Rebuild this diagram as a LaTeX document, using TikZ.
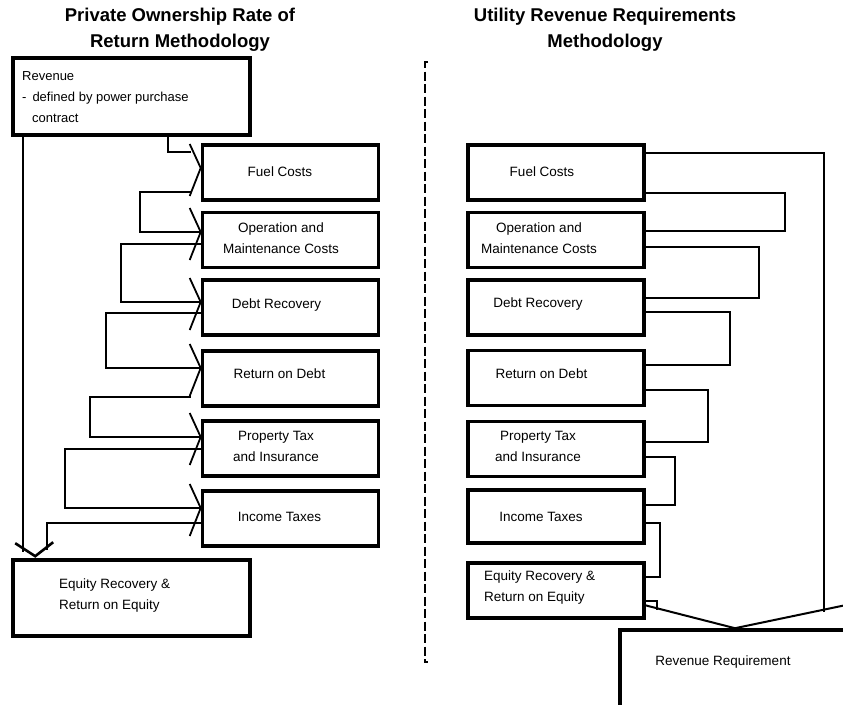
\documentclass[tikz,border=0pt]{standalone}
\usepackage{fontspec}
\setmainfont{Liberation Sans}
\usetikzlibrary{calc}
\newcommand{\barb}[2]{\draw[barb]($(#1.west)+(-11,#2-24)$)--($(#1.west)+(0,#2)$)--($(#1.west)+(-11,#2+28)$);}

\begin{document}
\begin{tikzpicture}[x=1pt,y=-1pt,
 box/.style={draw,line width=3.6pt,minimum width=176pt,minimum height=55pt,inner sep=0pt},
 txt/.style={font=\fontsize{13.5}{21}\selectfont,align=center,inner sep=0pt},
 ttl/.style={font=\fontsize{18.5}{26}\selectfont\bfseries,align=center},
 conn/.style={line width=2pt},
 barb/.style={line width=1.8pt},
 divider/.style={line width=2.5pt,dash pattern=on 9pt off 3.5pt}]
\clip(0,0)rectangle(843,704);
\node[ttl](ttlleft)at(180,30){Private Ownership Rate of\\Return Methodology};
\node[ttl](ttlright)at(605,30){Utility Revenue Requirements\\Methodology};
\draw[divider](428,62)--(425,62)--(425,662)--(428,662);
% left column
\node[box,minimum width=237pt,minimum height=77pt](rev)at(131.5,96.5){};
\node[box](lfuel)at(290.5,172.5){};
\node[box](lom)at(290.5,240){};
\node[box](ldebt)at(290.5,307.5){};
\node[box](lrod)at(290.5,378.5){};
\node[box](lprop)at(290.5,448.5){};
\node[box](linc)at(290.5,518.5){};
\node[box,minimum width=237pt,minimum height=76pt](leqty)at(131.5,598){};
\node[txt,font=\fontsize{13}{21}\selectfont,align=left,anchor=west](trev)at(22,97)
 {Revenue\\-\hspace{6pt}defined by power purchase\\\hspace*{10pt}contract};
\node[txt](tlfuel)at(280,172){Fuel Costs};
\node[txt](tlom)at(281,238){Operation and\\Maintenance Costs};
\node[txt](tldebt)at(276.5,305){Debt Recovery};
\node[txt](tlrod)at(279.5,374){Return on Debt};
\node[txt](tlprop)at(276,446){Property Tax\\and Insurance};
\node[txt](tlinc)at(279.5,517){Income Taxes};
\node[txt,align=left,anchor=west](tleqty)at(59,596){Equity Recovery \&\\Return on Equity};
\draw[conn]($(rev.south)+(36.5,0)$)|-($(lfuel.west)+(-10,-20.5)$);
\foreach \a/\b/\s/\o/\d/\i in {lfuel/lom/10/19.5/50.5/-8,lom/ldebt/0/4/79.5/-5.5,
 ldebt/lrod/0/5.5/94.5/-10.5,lrod/lprop/10/18.5/100.5/-11.5,lprop/linc/0/0.5/135.5/-10.5}
 \draw[conn]($(\a.west)+(-\s,\o)$)--++(-\d,0)|-($(\b.west)+(0,\i)$);
\barb{lfuel}{-4.5}\barb{lom}{-8}\barb{ldebt}{-5.5}\barb{lrod}{-10.5}\barb{lprop}{-11.5}\barb{linc}{-10.5}
\draw[conn]($(linc.west)+(0,4.5)$)--++(-153.5,0)--++(0,27);
\draw[conn]($(rev.south west)+(12,0)$)--($(leqty.north west)+(12,-6)$);
\draw[barb,line width=2.6pt]($(leqty.north west)+(4,-15)$)--($(leqty.north west)+(24,-2)$)--++(18,-14);
% right column
\node[box](rfuel)at(556,172.5){};
\node[box](rom)at(556,240){};
\node[box](rdebt)at(556,307.5){};
\node[box](rrod)at(556,378){};
\node[box](rprop)at(556,449){};
\node[box,minimum height=53pt](rinc)at(556,516.5){};
\node[box](reqty)at(556,590.5){};
\node[box,minimum width=230pt,minimum height=82pt](rrev)at(735,671){};
\node[txt](trfuel)at(542,172){Fuel Costs};
\node[txt](trom)at(539,238){Operation and\\Maintenance Costs};
\node[txt](trdebt)at(538,304){Debt Recovery};
\node[txt](trrod)at(541.5,374){Return on Debt};
\node[txt](trprop)at(538,446){Property Tax\\and Insurance};
\node[txt](trinc)at(541,517){Income Taxes};
\node[txt,align=left,anchor=west](treqty)at(484,587.5){Equity Recovery \&\\Return on Equity};
\node[txt](trrev)at(723,662){Revenue Requirement};
\foreach \a/\b/\o/\d/\i in {rfuel/rom/20.5/139/-9,rom/rdebt/7/113/-9.5,rdebt/rrod/4.5/84/-13,
 rrod/rprop/12/62/-7,rprop/rinc/8/29/-11.5,rinc/reqty/6.5/14/-13.5}
 \draw[conn]($(\a.east)+(0,\o)$)--++(\d,0)|-($(\b.east)+(-4,\i)$);
\draw[conn]($(rfuel.east)+(-4,-19.5)$)-|(824,611.5);
\draw[conn]($(reqty.east)+(-4,10.5)$)-|(656.5,610);
\draw[conn]($(rrev.north)+(-90,-23)$)--(rrev.north)--++(115,-24);
\end{tikzpicture}
\end{document}
